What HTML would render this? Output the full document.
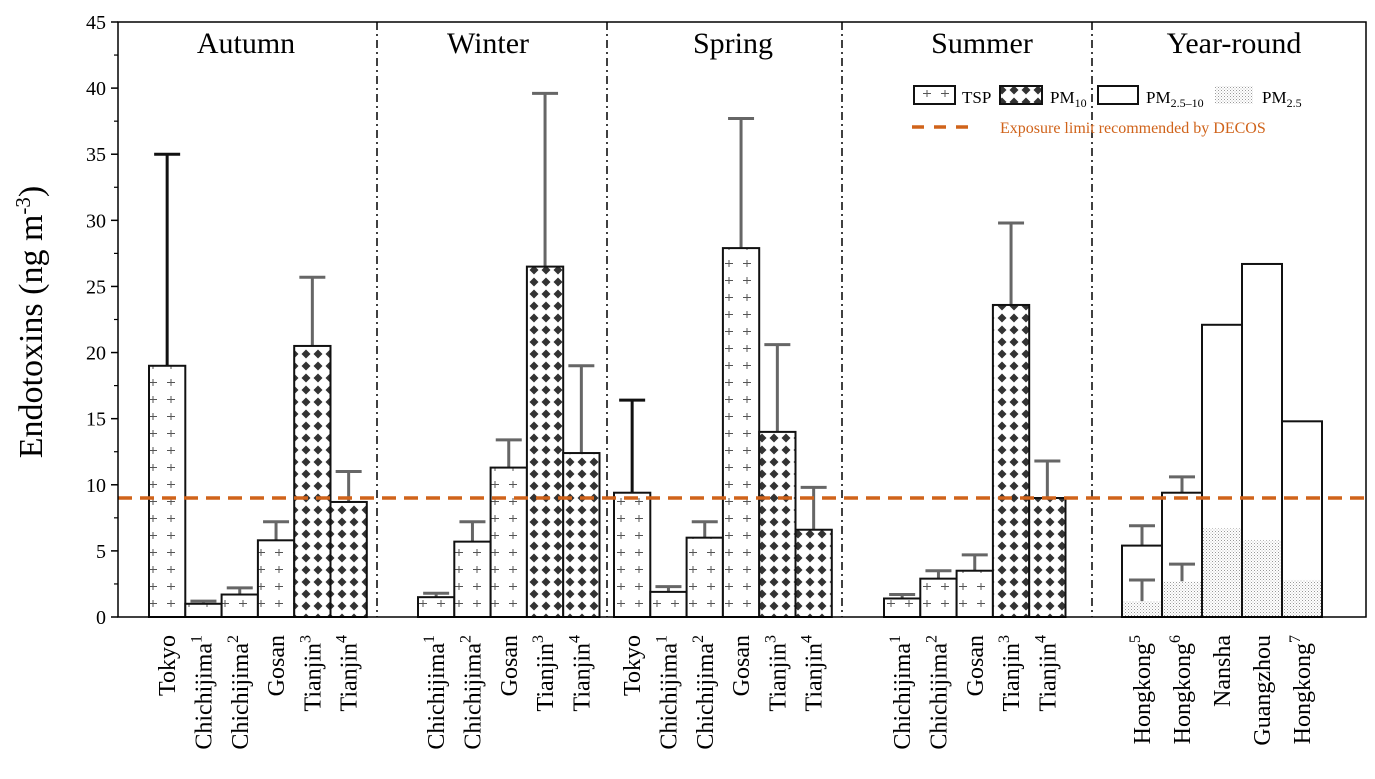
<!DOCTYPE html>
<html><head><meta charset="utf-8"><style>
html,body{margin:0;padding:0;background:#fff;}
svg{display:block;font-family:"Liberation Serif",serif;}
</style></head><body>
<svg id="chart" width="1375" height="779" viewBox="0 0 1375 779" xmlns="http://www.w3.org/2000/svg">
<defs>
<pattern id="plus" width="18" height="17" patternUnits="userSpaceOnUse">
<rect width="18" height="17" fill="#fff"/>
<path d="M5 8.5h8M9 5v7" stroke="#555" stroke-width="1"/>
</pattern>
<pattern id="diam" width="12" height="12" patternUnits="userSpaceOnUse">
<rect width="12" height="12" fill="#fff"/>
<path d="M6 1.5L10.5 6L6 10.5L1.5 6Z" fill="#333"/>
</pattern>
<pattern id="dots" width="3" height="3" patternUnits="userSpaceOnUse">
<rect width="3" height="3" fill="#fff"/>
<rect width="1" height="1" fill="#999"/>
<rect x="1.5" y="1.5" width="1" height="1" fill="#bbb"/>
</pattern>
</defs>
<g id="plot"></g>
</svg>
<script>
// ---- data ----
const groups = ["Autumn","Winter","Spring","Summer","Year-round"];
const categories = ["Tokyo","Chichijima|1","Chichijima|2","Gosan","Tianjin|3","Tianjin|4",
 "Chichijima|1","Chichijima|2","Gosan","Tianjin|3","Tianjin|4",
 "Tokyo","Chichijima|1","Chichijima|2","Gosan","Tianjin|3","Tianjin|4",
 "Chichijima|1","Chichijima|2","Gosan","Tianjin|3","Tianjin|4",
 "Hongkong|5","Hongkong|6","Nansha","Guangzhou","Hongkong|7"];
const groupOf = [0,0,0,0,0,0,1,1,1,1,1,2,2,2,2,2,2,3,3,3,3,3,4,4,4,4,4];
const types = ["TSP","TSP","TSP","TSP","PM10","PM10","TSP","TSP","TSP","PM10","PM10",
 "TSP","TSP","TSP","TSP","PM10","PM10","TSP","TSP","TSP","PM10","PM10",
 "PM2.5-10","PM2.5-10","PM2.5-10","PM2.5-10","PM2.5-10"];
const values = [19.0,1.0,1.7,5.8,20.5,8.7, 1.5,5.7,11.3,26.5,12.4, 9.4,1.9,6.0,27.9,14.0,6.6, 1.4,2.9,3.5,23.6,9.0, 5.4,9.4,22.1,26.7,14.8];
const errTop = [35.0,1.2,2.2,7.2,25.7,11.0, 1.8,7.2,13.4,39.6,19.0, 16.4,2.3,7.2,37.7,20.6,9.8, 1.7,3.5,4.7,29.8,11.8, 6.9,10.6,null,null,null];
const pm25 = [null,null,null,null,null,null,null,null,null,null,null,null,null,null,null,null,null,null,null,null,null,null,1.2,2.7,6.7,5.8,2.8];
const pm25Err = [null,null,null,null,null,null,null,null,null,null,null,null,null,null,null,null,null,null,null,null,null,null,2.8,4.0,null,null,null];
const yTicks = [0,5,10,15,20,25,30,35,40,45];
const limit = 9;
// ---- layout ----
const X0=118,X1=1366,Y0=617,Y1=22;
const groupStart=[149,418,614,884,1122], groupBarW=[36.3,36.3,36.3,36.3,40];
const separators=[377,607,842,1092];
const groupTitleX=[246,488,733,982,1234];
const y = v => Y0 - (v/45)*(Y0-Y1);
const NS="http://www.w3.org/2000/svg";
const g=document.getElementById('plot');
function mk(tag,attrs,parent){const e=document.createElementNS(NS,tag);for(const k in attrs)e.setAttribute(k,attrs[k]);(parent||g).appendChild(e);return e;}
const idxIn=[];let cnt={};categories.forEach((c,i)=>{const gI=groupOf[i];cnt[gI]=(cnt[gI]||0);idxIn.push(cnt[gI]);cnt[gI]++;});
const xOf=i=>groupStart[groupOf[i]]+idxIn[i]*groupBarW[groupOf[i]];
separators.forEach(sx=>{const l=mk('line',{x1:sx,x2:sx,y1:Y1,y2:Y0,stroke:'#000','stroke-width':1.5,'stroke-dasharray':'8 4 2 4'});

});
groups.forEach((t,i)=>{const e=mk('text',{x:groupTitleX[i],y:53,'font-size':30,'text-anchor':'middle'});e.textContent=t;

});
categories.forEach((c,i)=>{
 const x=xOf(i),w=groupBarW[groupOf[i]],v=values[i];
 const fill=types[i]==="TSP"?'url(#plus)':types[i]==="PM10"?'url(#diam)':'#fff';
 if(errTop[i]!=null){const black=(c==="Tokyo");const col=black?'#111':'#666';
  const el=mk('g',{});
  
  
  mk('line',{x1:x+w/2,x2:x+w/2,y1:y(v),y2:y(errTop[i]),stroke:col,'stroke-width':3},el);
  mk('line',{x1:x+w/2-13,x2:x+w/2+13,y1:y(errTop[i]),y2:y(errTop[i]),stroke:col,'stroke-width':3},el);}
 const r=mk('rect',{x:x,y:y(v),width:w,height:Y0-y(v),fill:fill,stroke:'#111','stroke-width':2});
 
 
 if(pm25[i]!=null){
  const r2=mk('rect',{x:x+1,y:y(pm25[i]),width:w-2,height:Y0-y(pm25[i])-1,fill:'url(#dots)'});
  
  
  if(pm25Err[i]!=null){const el=mk('g',{});
   
   
   mk('line',{x1:x+w/2,x2:x+w/2,y1:y(pm25[i]),y2:y(pm25Err[i]),stroke:'#666','stroke-width':3},el);
   mk('line',{x1:x+w/2-13,x2:x+w/2+13,y1:y(pm25Err[i]),y2:y(pm25Err[i]),stroke:'#666','stroke-width':3},el);}
 }
 const [name,sup]=c.split('|');
 const cx=x+w/2+8, ty=635;
 const t=mk('text',{x:0,y:0,'font-size':24,'text-anchor':'end',transform:`translate(${cx},${ty}) rotate(-90)`});
 t.textContent=name;
 if(sup){const s=mk('tspan',{'font-size':16,dy:-10},t);s.textContent=sup;}
 
 
});
const lim=mk('line',{x1:X0,x2:X1,y1:y(limit),y2:y(limit),stroke:'#D0631A','stroke-width':3.5,'stroke-dasharray':'14 8'});


const fr=mk('rect',{x:X0,y:Y1,width:X1-X0,height:Y0-Y1,fill:'none',stroke:'#000','stroke-width':1.5});


yTicks.forEach(v=>{mk('line',{x1:X0-7,x2:X0,y1:y(v),y2:y(v),stroke:'#000','stroke-width':1.5});
 const t=mk('text',{x:X0-12,y:y(v)+7,'font-size':20,'text-anchor':'end'});t.textContent=v;
 
 
 if(v<45)mk('line',{x1:X0-4,x2:X0,y1:y(v+2.5),y2:y(v+2.5),stroke:'#000','stroke-width':1.2});});
const yt=mk('text',{x:0,y:0,'font-size':34,'text-anchor':'middle',transform:'translate(42,322) rotate(-90)'});
yt.innerHTML='Endotoxins (ng m<tspan font-size="21" dy="-12">-3</tspan><tspan dy="12">)</tspan>';


const lg=mk('g',{});


const leg=[["TSP","url(#plus)",914,41,962,""],["PM","url(#diam)",1000,42,1050,"10"],["PM","#fff",1098,40,1146,"2.5–10"],["PM","url(#dots)",1215,38,1262,"2.5"]];
leg.forEach(([n,f,bx,bw,tx,sub],k)=>{
 mk('rect',{x:bx,y:86,width:bw,height:18,fill:f,stroke:k==3?'none':'#111','stroke-width':2},lg);
 const t=mk('text',{x:tx,y:103,'font-size':17},lg);t.textContent=n;
 if(sub){const s=mk('tspan',{'font-size':12,dy:4},t);s.textContent=sub;}
});
mk('line',{x1:912,x2:968,y1:127,y2:127,stroke:'#D0631A','stroke-width':3.5,'stroke-dasharray':'12 10'},lg);
const lt=mk('text',{x:1000,y:133,'font-size':16,fill:'#D0631A'},lg);lt.textContent='Exposure limit recommended by DECOS';
</script>
</body></html>
